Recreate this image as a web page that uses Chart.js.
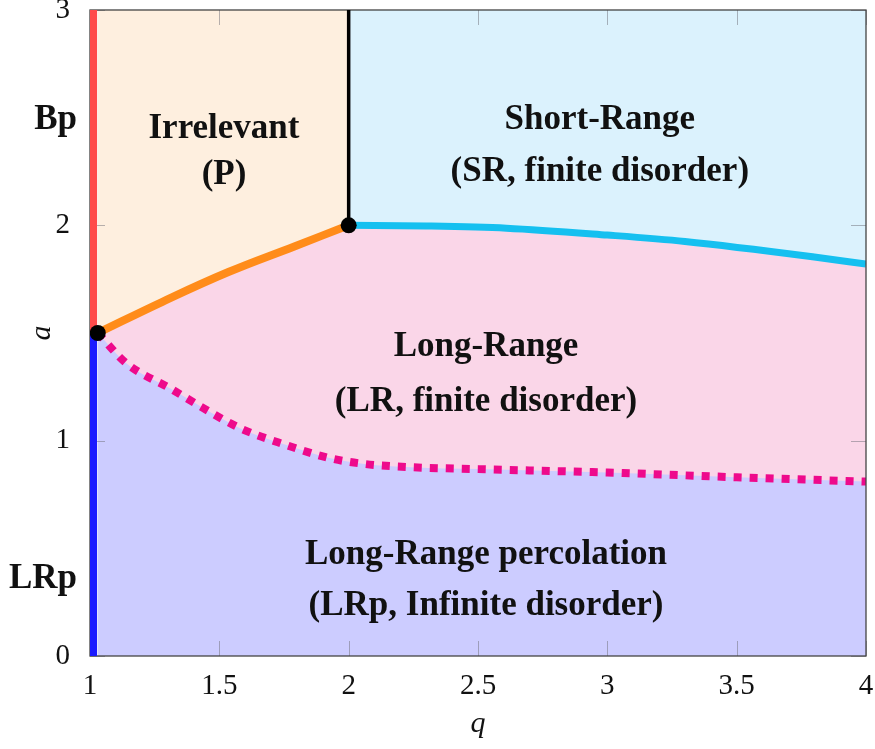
<!DOCTYPE html>
<html lang="en">
<head>
  <meta charset="UTF-8">
  <title>Phase diagram</title>
  <script src="https://cdn.jsdelivr.net/npm/chart.js"></script>
  <style>
    body { margin: 0; background: #fff; }
  </style>
</head>
<body>
  <canvas id="phaseChart" width="875" height="749"></canvas>

  <script>
    // boundary curves
    const orangeQ = [1.03, 1.28, 1.535, 1.79, 2.0];
    const orangeA = [1.5, 1.645, 1.783, 1.902, 2.0];

    const cyanQ = [2.0, 2.3, 2.61, 3.0, 3.3, 3.8, 4.0];
    const cyanA = [2.0, 1.997, 1.987, 1.955, 1.925, 1.853, 1.82];

    const dottedQ = [1.03, 1.14, 1.32, 1.43, 1.58, 1.75, 1.93, 2.06, 2.24, 2.5, 3.0, 3.5, 4.0];
    const dottedA = [1.5, 1.36, 1.236, 1.157, 1.058, 0.983, 0.918, 0.892, 0.877, 0.868, 0.852, 0.83, 0.81];

    const pointQ = [1.03, 2.0];
    const pointA = [1.5, 2.0];

    const xTicks = [1, 1.5, 2, 2.5, 3, 3.5, 4];
    const yTicks = [0, 1, 2, 3];

    const FONT = '"Liberation Serif", "Times New Roman", serif';

    function pts(qs, as) {
      return qs.map((q, i) => ({ x: q, y: as[i] }));
    }

    // upper boundary of the long-range region (orange + cyan)
    const upperQ = orangeQ.concat(cyanQ.slice(1));
    const upperA = orangeA.concat(cyanA.slice(1));

    const regionLabels = [
      { text: 'Irrelevant', q: 1.518, a: 2.407 },
      { text: '(P)', q: 1.518, a: 2.19 },
      { text: 'Short-Range', q: 2.971, a: 2.449 },
      { text: '(SR, finite disorder)', q: 2.971, a: 2.205 },
      { text: 'Long-Range', q: 2.531, a: 1.394 },
      { text: '(LR, finite disorder)', q: 2.531, a: 1.14 },
      { text: 'Long-Range percolation', q: 2.531, a: 0.427 },
      { text: '(LRp, Infinite disorder)', q: 2.531, a: 0.19 }
    ];
    const sideLabels = [
      { text: 'Bp', a: 2.449 },
      { text: 'LRp', a: 0.316 }
    ];

    const overlay = {
      id: 'overlay',
      afterDatasetDraw(chart, args) {
        if (args.index !== 4) return;
        const ctx = chart.ctx, ca = chart.chartArea;
        const xs = chart.scales.x, ys = chart.scales.y;
        ctx.save();
        ctx.strokeStyle = 'rgba(110,110,120,0.5)';
        ctx.lineWidth = 1;
        ctx.beginPath();
        xTicks.forEach(v => {
          const px = Math.round(xs.getPixelForValue(v)) + 0.5;
          ctx.moveTo(px, ca.bottom); ctx.lineTo(px, ca.bottom - 15);
          ctx.moveTo(px, ca.top); ctx.lineTo(px, ca.top + 15);
        });
        yTicks.forEach(v => {
          const py = Math.round(ys.getPixelForValue(v)) + 0.5;
          ctx.moveTo(ca.left, py); ctx.lineTo(ca.left + 15, py);
          ctx.moveTo(ca.right, py); ctx.lineTo(ca.right - 15, py);
        });
        ctx.stroke();
        // frame
        ctx.strokeStyle = '#444';
        ctx.lineWidth = 1.3;
        ctx.strokeRect(ca.left, ca.top, ca.right - ca.left, ca.bottom - ca.top);
        ctx.restore();
      },
      afterDraw(chart) {
        const ctx = chart.ctx, ca = chart.chartArea;
        const xs = chart.scales.x, ys = chart.scales.y;
        ctx.save();
        ctx.fillStyle = '#111';
        ctx.textBaseline = 'alphabetic';
        ctx.font = 'bold 35px ' + FONT;
        ctx.textAlign = 'center';
        regionLabels.forEach(l => {
          ctx.fillText(l.text, xs.getPixelForValue(l.q), ys.getPixelForValue(l.a));
        });
        ctx.textAlign = 'right';
        sideLabels.forEach(l => {
          ctx.fillText(l.text, ca.left - 13, ys.getPixelForValue(l.a));
        });
        // axis titles
        ctx.font = 'italic 30px ' + FONT;
        ctx.textAlign = 'center';
        ctx.fillText('q', (ca.left + ca.right) / 2, 732);
        ctx.translate(50, (ca.top + ca.bottom) / 2);
        ctx.rotate(-Math.PI / 2);
        ctx.fillText('a', 0, 0);
        ctx.restore();
      }
    };

    new Chart(document.getElementById('phaseChart'), {
      type: 'scatter',
      data: {
        datasets: [
          { // 0 critical points
            data: pts(pointQ, pointA),
            pointRadius: 8, pointBackgroundColor: '#000', pointBorderWidth: 0,
            showLine: false
          },
          { // 1 vertical black line at q = 2
            data: pts([2, 2], [2, 3]),
            showLine: true, pointRadius: 0, borderColor: '#000', borderWidth: 3.5
          },
          { // 2 Bp red segment
            data: pts([1.012, 1.012], [1.5, 3]),
            showLine: true, pointRadius: 0, borderColor: '#ff4a4a', borderWidth: 8
          },
          { // 3 LRp blue segment
            data: pts([1.012, 1.012], [0, 1.5]),
            showLine: true, pointRadius: 0, borderColor: '#1a1aff', borderWidth: 8
          },
          { // 4 dotted boundary, fill LRp region below it
            data: pts(dottedQ, dottedA),
            showLine: true, pointRadius: 0, borderColor: '#ee0a8c', borderWidth: 8,
            borderDash: [8, 8], borderCapStyle: 'butt',
            cubicInterpolationMode: 'monotone',
            fill: 'origin', backgroundColor: '#ccccff'
          },
          { // 5 orange boundary, fill irrelevant region above it
            data: pts(orangeQ, orangeA),
            showLine: true, pointRadius: 0, borderColor: '#ff8c1a', borderWidth: 8,
            tension: 0.4,
            fill: 'end', backgroundColor: '#feefdf'
          },
          { // 6 cyan boundary, fill short-range region above it
            data: pts(cyanQ, cyanA),
            showLine: true, pointRadius: 0, borderColor: '#15c0f0', borderWidth: 7,
            cubicInterpolationMode: 'monotone',
            fill: 'end', backgroundColor: '#dbf2fd'
          },
          { // 7 long-range region (pink) under the upper boundary
            data: pts(upperQ, upperA),
            showLine: true, pointRadius: 0, borderWidth: 0, borderColor: 'rgba(0,0,0,0)',
            tension: 0.4,
            fill: 'origin', backgroundColor: '#fad6e8'
          }
        ]
      },
      options: {
        responsive: false,
        animation: false,
        layout: { padding: { top: 10, right: 9, left: 0, bottom: 0 } },
        plugins: {
          legend: { display: false },
          tooltip: { enabled: false }
        },
        scales: {
          x: {
            type: 'linear', min: 1, max: 4,
            afterBuildTicks: s => { s.ticks = xTicks.map(v => ({ value: v })); },
            grid: { display: false },
            border: { display: false },
            ticks: {
              color: '#111', padding: 5,
              font: { family: FONT, size: 29 },
              maxRotation: 0,
              callback: v => String(v)
            },
            afterFit: s => { s.height = 93; s.paddingLeft = 0; s.paddingRight = 0; }
          },
          y: {
            type: 'linear', min: 0, max: 3,
            afterBuildTicks: s => { s.ticks = yTicks.map(v => ({ value: v })); },
            grid: { display: false },
            border: { display: false },
            ticks: {
              color: '#111', padding: 12,
              font: { family: FONT, size: 29 },
              callback: v => String(v)
            },
            afterFit: s => { s.width = 90; s.paddingTop = 0; s.paddingBottom = 0; }
          }
        }
      },
      plugins: [overlay]
    });
  </script>
</body>
</html>
